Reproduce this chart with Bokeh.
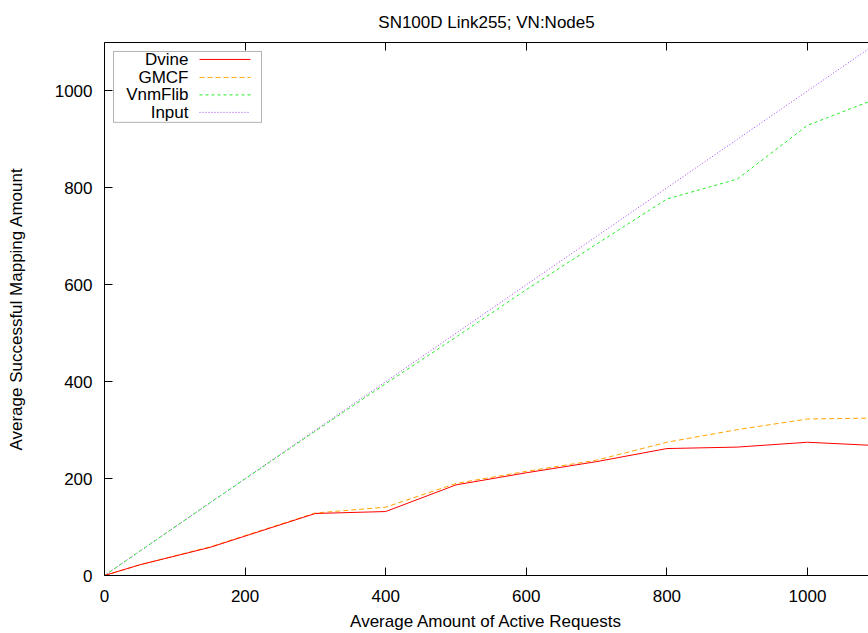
from bokeh.plotting import figure
from bokeh.models import LinearAxis, FixedTicker, Range1d, Label, Arrow, BoxAnnotation
from bokeh.embed import file_html
from bokeh.resources import INLINE

# ---- data ----
requests = [0, 50, 150, 300, 400, 500, 600, 700, 800, 900, 1000, 1100]
dvine = [0, 22, 58, 128, 132, 187, 212, 235, 262, 265, 275, 268]
gmcf = [0, 22, 59, 129, 141, 190, 215, 238, 275, 301, 323, 325]
vnmflib = [0, 50, 150, 298, 396, 492, 590, 684, 777, 818, 929, 985]
input_amt = [0, 50, 150, 300, 400, 500, 600, 700, 800, 900, 1000, 1100]
series_names = ["Dvine", "GMCF", "VnmFlib", "Input"]
x_ticks = [0, 200, 400, 600, 800, 1000]
y_ticks = [0, 200, 400, 600, 800, 1000]
title_text = "SN100D Link255; VN:Node5"
x_label = "Average Amount of Active Requests"
y_label = "Average Successful Mapping Amount"

# ---- layout ----
FONT = "Liberation Sans"
FS = "17px"
W, H = 868, 633
B_LEFT, B_TOP, B_BOTTOM = 104, 42, 57
FRAME_W, FRAME_H = W - B_LEFT, H - B_TOP - B_BOTTOM
PX_PER_X = 0.703
X_END = FRAME_W / PX_PER_X
Y_END = 1100
PAGE_FRAME_LEFT, PAGE_FRAME_TOP = B_LEFT, B_TOP
PAGE_FRAME_BOTTOM = PAGE_FRAME_TOP + FRAME_H

p = figure(width=W, height=H, output_backend="svg", toolbar_location=None,
           x_range=Range1d(0, X_END), y_range=Range1d(0, Y_END),
           min_border_left=B_LEFT, min_border_right=0, min_border_top=B_TOP,
           min_border_bottom=B_BOTTOM,
           x_axis_location=None, y_axis_location=None)
p.outline_line_color = None
p.xgrid.visible = False
p.ygrid.visible = False
p.background_fill_color = "white"
p.border_fill_color = "white"

p.title.text = title_text
p.title.align = "center"
p.title.offset = 4
p.title.text_font = FONT
p.title.text_font_size = FS
p.title.text_font_style = "normal"
p.title.text_color = "black"
p.title.standoff = 21


def style_axis(ax, labels=True):
    ax.axis_line_color = "black"
    ax.axis_line_width = 1
    ax.major_tick_line_color = "black"
    ax.major_tick_in = 8
    ax.major_tick_out = 0
    ax.minor_tick_line_color = None
    ax.major_label_text_font = FONT
    ax.major_label_text_font_size = FS if labels else "1px"
    ax.major_label_text_color = "black" if labels else None
    ax.axis_label_text_font = FONT
    ax.axis_label_text_font_size = FS
    ax.axis_label_text_font_style = "normal"
    ax.axis_label_text_color = "black"


xb = LinearAxis(ticker=FixedTicker(ticks=x_ticks), axis_label=x_label)
style_axis(xb)
xb.major_label_standoff = 14
xb.axis_label_standoff = 7
p.add_layout(xb, "below")

# mirrored top border with inward ticks
xt = LinearAxis(ticker=FixedTicker(ticks=x_ticks))
style_axis(xt, labels=False)
xt.major_label_standoff = 0
p.add_layout(xt, "above")

yl = LinearAxis(ticker=FixedTicker(ticks=y_ticks), axis_label=y_label)
style_axis(yl)
yl.major_label_standoff = 12
yl.axis_label_standoff = 26
p.add_layout(yl, "left")

colors = ["#ff0000", "#ffa500", "#22ee22", "#a040f0"]
dashes = ["solid", "5 3", "3 3", "1 2"]
values = [dvine, gmcf, vnmflib, input_amt]

# draw in reverse so Dvine sits on top
for ys, c, d in reversed(list(zip(values, colors, dashes))):
    p.line(requests, ys, line_color=c, line_dash=d, line_width=1)


def px2x(px):
    return X_END * (px - PAGE_FRAME_LEFT) / FRAME_W


def py2y(py):
    return Y_END * (PAGE_FRAME_BOTTOM - py) / FRAME_H


# gnuplot-style key: label right-aligned, sample to the right
p.add_layout(BoxAnnotation(left=px2x(113), right=px2x(261), top=py2y(51), bottom=py2y(122),
                           fill_color=None, fill_alpha=0, line_color="black", line_width=1,
                           level="overlay"))
row_y = [59, 77, 94.5, 112]
for name, c, d, ry in zip(series_names, colors, dashes, row_y):
    p.add_layout(Label(x=px2x(188), y=py2y(ry), text=name, text_align="right",
                       text_baseline="middle", text_font=FONT, text_font_size=FS,
                       text_color="black"))
    p.add_layout(Arrow(x_start=px2x(199), y_start=py2y(ry), x_end=px2x(250), y_end=py2y(ry),
                       end=None, start=None, line_color=c, line_dash=d, line_width=1))

open("out.html", "w").write(file_html(p, INLINE))
